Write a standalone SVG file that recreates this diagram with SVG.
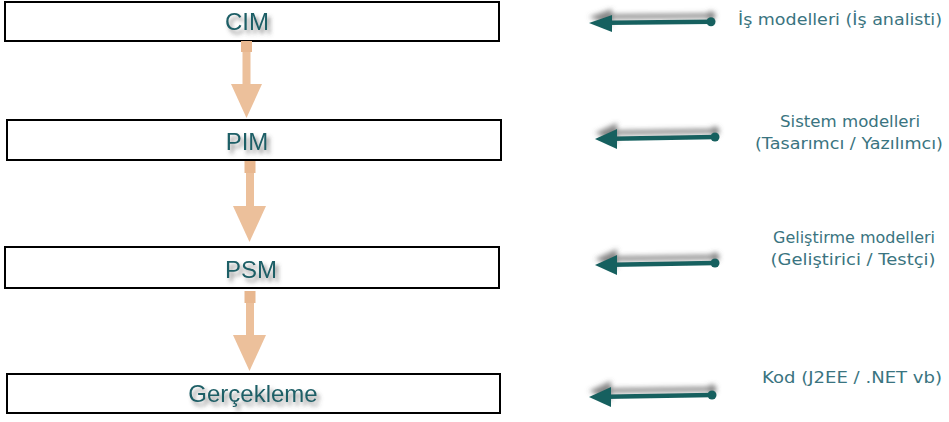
<svg xmlns="http://www.w3.org/2000/svg" width="949" height="422" viewBox="0 0 949 422">
  <style>
    .box { fill: #ffffff; stroke: #000000; stroke-width: 2; }
    .label { font-family: "Liberation Sans", Arial, sans-serif; font-size: 24px; fill: #1d5e66; text-anchor: middle; }
    .note { font-family: "DejaVu Sans", Verdana, sans-serif; font-size: 15px; fill: #3a7480; text-anchor: middle; }
    .flow { fill: #ecc09b; }
    .flow-top { fill: #e8b78f; }
    .pointer { fill: #17605f; }
    .pointer-line { stroke: #17605f; stroke-width: 4.5; fill: none; }
  </style>
  <defs>
    <filter id="textShadow" x="-20%" y="-30%" width="140%" height="170%">
      <feGaussianBlur in="SourceAlpha" stdDeviation="2"/>
      <feOffset dx="3" dy="4" result="blur"/>
      <feFlood flood-color="#4d4d4d" flood-opacity="0.65"/>
      <feComposite in2="blur" operator="in" result="shadow"/>
      <feMerge><feMergeNode in="shadow"/><feMergeNode in="SourceGraphic"/></feMerge>
    </filter>
    <filter id="pointerShadow" x="-10%" y="-100%" width="120%" height="300%">
      <feGaussianBlur in="SourceAlpha" stdDeviation="2.5"/>
      <feOffset dx="0" dy="-6" result="blur"/>
      <feFlood flood-color="#555555" flood-opacity="0.7"/>
      <feComposite in2="blur" operator="in" result="shadow"/>
      <feMerge><feMergeNode in="shadow"/><feMergeNode in="SourceGraphic"/></feMerge>
    </filter>
  </defs>

  <!-- model levels -->
  <g id="cim">
    <rect class="box" x="5" y="2" width="494" height="39"/>
    <text class="label" x="247" y="30" filter="url(#textShadow)">CIM</text>
  </g>
  <g id="pim">
    <rect class="box" x="7" y="120" width="494" height="40"/>
    <text class="label" x="247" y="150" filter="url(#textShadow)">PIM</text>
  </g>
  <g id="psm">
    <rect class="box" x="5" y="247" width="494" height="41"/>
    <text class="label" x="251" y="278" filter="url(#textShadow)">PSM</text>
  </g>
  <g id="gerceklesme">
    <rect class="box" x="7" y="374" width="493" height="39"/>
    <text class="label" x="253" y="402" filter="url(#textShadow)">Gerçekleme</text>
  </g>

  <!-- role notes -->
  <g id="note-cim">
    <text class="note" x="840" y="25" textLength="204" lengthAdjust="spacingAndGlyphs">İş modelleri (İş analisti)</text>
  </g>
  <g id="note-pim">
    <text class="note" x="850" y="127" textLength="140" lengthAdjust="spacingAndGlyphs">Sistem modelleri</text>
    <text class="note" x="849" y="149" textLength="188" lengthAdjust="spacingAndGlyphs">(Tasarımcı / Yazılımcı)</text>
  </g>
  <g id="note-psm">
    <text class="note" x="854" y="243" textLength="162" lengthAdjust="spacingAndGlyphs">Geliştirme modelleri</text>
    <text class="note" x="853" y="265" textLength="165" lengthAdjust="spacingAndGlyphs">(Geliştirici / Testçi)</text>
  </g>
  <g id="note-code">
    <text class="note" x="852" y="383" textLength="180" lengthAdjust="spacingAndGlyphs">Kod (J2EE / .NET vb)</text>
  </g>

  <g id="connectors">
    <!-- downward transformation arrows -->
    <g>
      <rect class="flow-top" x="241" y="41" width="11" height="11"/>
      <rect class="flow" x="242.5" y="52" width="8" height="32"/>
      <polygon class="flow" points="231,84 262,84 246.5,118"/>
    </g>
    <g>
      <rect class="flow-top" x="244.5" y="161" width="11" height="12"/>
      <rect class="flow" x="246" y="173" width="8" height="33"/>
      <polygon class="flow" points="233,206 266,206 249.5,242"/>
    </g>
    <g>
      <rect class="flow-top" x="244.5" y="291" width="11" height="12"/>
      <rect class="flow" x="246" y="303" width="8" height="32"/>
      <polygon class="flow" points="233,335 266,335 249.5,371"/>
    </g>

    <!-- role pointers -->
    <g filter="url(#pointerShadow)">
      <line class="pointer-line" x1="711" y1="21.7" x2="608" y2="22.8"/>
      <circle class="pointer" cx="711" cy="21.7" r="4.5"/>
      <polygon class="pointer" points="589,23 612,15 612,32"/>
    </g>
    <g filter="url(#pointerShadow)">
      <line class="pointer-line" x1="715" y1="137" x2="612" y2="138.8"/>
      <circle class="pointer" cx="715" cy="137" r="4.5"/>
      <polygon class="pointer" points="595,139 617,129 617,149"/>
    </g>
    <g filter="url(#pointerShadow)">
      <line class="pointer-line" x1="715" y1="263" x2="612" y2="264.8"/>
      <circle class="pointer" cx="715" cy="263" r="4.5"/>
      <polygon class="pointer" points="595,265 617,255 617,275"/>
    </g>
    <g filter="url(#pointerShadow)">
      <line class="pointer-line" x1="712" y1="395" x2="606" y2="396.8"/>
      <circle class="pointer" cx="712" cy="395" r="4.5"/>
      <polygon class="pointer" points="589,397 611,387 611,407"/>
    </g>
  </g>
</svg>
